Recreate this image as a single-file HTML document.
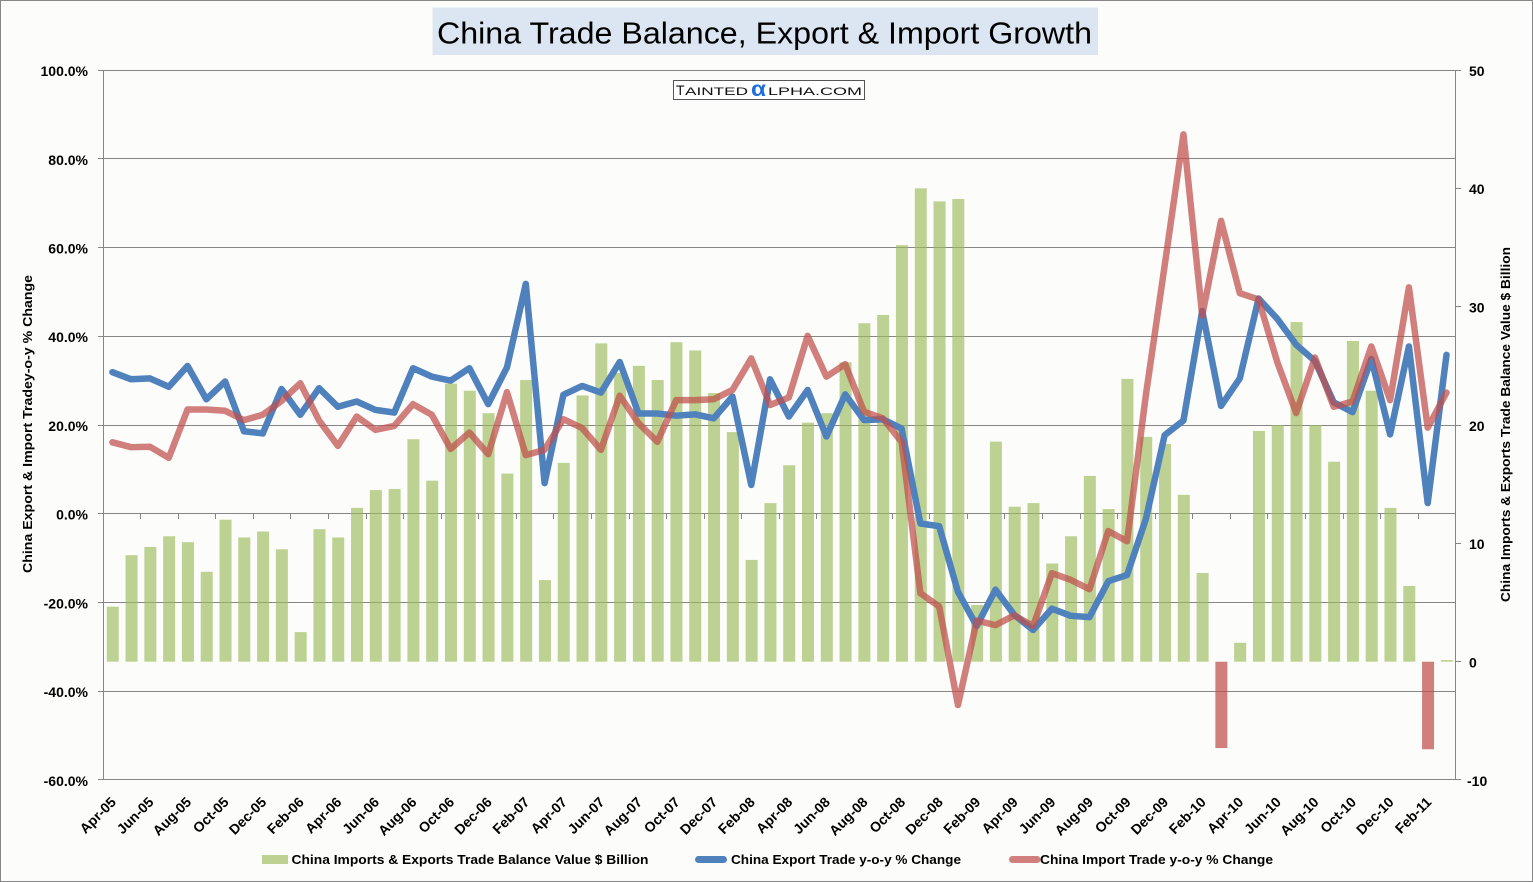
<!DOCTYPE html>
<html>
<head>
<meta charset="utf-8">
<style>
html,body{margin:0;padding:0;background:#FCFDFB;}
body{width:1533px;height:882px;overflow:hidden;}
svg{display:block;}
.t{font-family:"Liberation Sans",sans-serif;font-weight:bold;font-size:14px;fill:#000;}
.xl{font-family:"Liberation Sans",sans-serif;font-weight:bold;font-size:14px;fill:#000;text-anchor:end;}
.lg{font-family:"Liberation Sans",sans-serif;font-weight:bold;font-size:13px;fill:#000;}
</style>
</head>
<body>
<svg width="1533" height="882" viewBox="0 0 1533 882" xmlns="http://www.w3.org/2000/svg">
<rect x="0" y="0" width="1533" height="882" fill="#FCFDFB"/>
<rect x="0.5" y="0.5" width="1532" height="881" fill="none" stroke="#878787" stroke-width="1"/>

<!-- Title -->
<rect x="432.5" y="7.5" width="665.5" height="47.5" fill="#DCE6F2"/>
<text x="437" y="43.5" font-family="Liberation Sans, sans-serif" font-size="31" fill="#000" textLength="655" lengthAdjust="spacingAndGlyphs">China Trade Balance, Export &amp; Import Growth</text>

<!-- Gridlines -->
<g stroke="#868686" stroke-width="1" shape-rendering="crispEdges">
<line x1="103" y1="70.5" x2="1456" y2="70.5"/>
<line x1="103" y1="158.5" x2="1456" y2="158.5"/>
<line x1="103" y1="247.5" x2="1456" y2="247.5"/>
<line x1="103" y1="336.5" x2="1456" y2="336.5"/>
<line x1="103" y1="425.5" x2="1456" y2="425.5"/>
<line x1="103" y1="513.5" x2="1456" y2="513.5"/>
<line x1="103" y1="602.5" x2="1456" y2="602.5"/>
<line x1="103" y1="691.5" x2="1456" y2="691.5"/>
<line x1="103" y1="779.5" x2="1456" y2="779.5"/>
<line x1="103.5" y1="70" x2="103.5" y2="780"/>
<line x1="1455.5" y1="70" x2="1455.5" y2="780"/>
<!-- left ticks -->
<line x1="98" y1="70.5" x2="103" y2="70.5"/>
<line x1="98" y1="158.5" x2="103" y2="158.5"/>
<line x1="98" y1="247.5" x2="103" y2="247.5"/>
<line x1="98" y1="336.5" x2="103" y2="336.5"/>
<line x1="98" y1="425.5" x2="103" y2="425.5"/>
<line x1="98" y1="513.5" x2="103" y2="513.5"/>
<line x1="98" y1="602.5" x2="103" y2="602.5"/>
<line x1="98" y1="691.5" x2="103" y2="691.5"/>
<line x1="98" y1="779.5" x2="103" y2="779.5"/>
<!-- right ticks -->
<line x1="1456" y1="70.5" x2="1461" y2="70.5"/>
<line x1="1456" y1="188.5" x2="1461" y2="188.5"/>
<line x1="1456" y1="306.5" x2="1461" y2="306.5"/>
<line x1="1456" y1="425.5" x2="1461" y2="425.5"/>
<line x1="1456" y1="543.5" x2="1461" y2="543.5"/>
<line x1="1456" y1="661.5" x2="1461" y2="661.5"/>
<line x1="1456" y1="779.5" x2="1461" y2="779.5"/>
</g>
<!-- category ticks on 0% line -->
<path stroke="#868686" stroke-width="1" fill="none" shape-rendering="crispEdges" d="M140.5 514v5M178.5 514v5M215.5 514v5M253.5 514v5M290.5 514v5M328.5 514v5M366.5 514v5M403.5 514v5M441.5 514v5M478.5 514v5M516.5 514v5M553.5 514v5M591.5 514v5M629.5 514v5M666.5 514v5M704.5 514v5M741.5 514v5M779.5 514v5M816.5 514v5M854.5 514v5M892.5 514v5M929.5 514v5M967.5 514v5M1004.5 514v5M1042.5 514v5M1080.5 514v5M1117.5 514v5M1155.5 514v5M1192.5 514v5M1230.5 514v5M1267.5 514v5M1305.5 514v5M1343.5 514v5M1380.5 514v5M1418.5 514v5"/>

<!-- Bars (right axis) -->
<g transform="matrix(18.79 0 0 -11.834 103 661.7)" fill="#9BBB59" fill-opacity="0.65">
<rect x="0.2" y="0" width="0.64" height="4.65"/>
<rect x="1.2" y="0" width="0.64" height="9.0"/>
<rect x="2.2" y="0" width="0.64" height="9.7"/>
<rect x="3.2" y="0" width="0.64" height="10.6"/>
<rect x="4.2" y="0" width="0.64" height="10.1"/>
<rect x="5.2" y="0" width="0.64" height="7.6"/>
<rect x="6.2" y="0" width="0.64" height="12.0"/>
<rect x="7.2" y="0" width="0.64" height="10.5"/>
<rect x="8.2" y="0" width="0.64" height="11.0"/>
<rect x="9.2" y="0" width="0.64" height="9.5"/>
<rect x="10.2" y="0" width="0.64" height="2.5"/>
<rect x="11.2" y="0" width="0.64" height="11.2"/>
<rect x="12.2" y="0" width="0.64" height="10.5"/>
<rect x="13.2" y="0" width="0.64" height="13.0"/>
<rect x="14.2" y="0" width="0.64" height="14.5"/>
<rect x="15.2" y="0" width="0.64" height="14.6"/>
<rect x="16.2" y="0" width="0.64" height="18.8"/>
<rect x="17.2" y="0" width="0.64" height="15.3"/>
<rect x="18.2" y="0" width="0.64" height="23.5"/>
<rect x="19.2" y="0" width="0.64" height="22.9"/>
<rect x="20.2" y="0" width="0.64" height="21.0"/>
<rect x="21.2" y="0" width="0.64" height="15.9"/>
<rect x="22.2" y="0" width="0.64" height="23.8"/>
<rect x="23.2" y="0" width="0.64" height="6.9"/>
<rect x="24.2" y="0" width="0.64" height="16.8"/>
<rect x="25.2" y="0" width="0.64" height="22.5"/>
<rect x="26.2" y="0" width="0.64" height="26.9"/>
<rect x="27.2" y="0" width="0.64" height="24.4"/>
<rect x="28.2" y="0" width="0.64" height="25.0"/>
<rect x="29.2" y="0" width="0.64" height="23.8"/>
<rect x="30.2" y="0" width="0.64" height="27.0"/>
<rect x="31.2" y="0" width="0.64" height="26.3"/>
<rect x="32.2" y="0" width="0.64" height="22.7"/>
<rect x="33.2" y="0" width="0.64" height="19.4"/>
<rect x="34.2" y="0" width="0.64" height="8.6"/>
<rect x="35.2" y="0" width="0.64" height="13.4"/>
<rect x="36.2" y="0" width="0.64" height="16.6"/>
<rect x="37.2" y="0" width="0.64" height="20.2"/>
<rect x="38.2" y="0" width="0.64" height="21.0"/>
<rect x="39.2" y="0" width="0.64" height="25.3"/>
<rect x="40.2" y="0" width="0.64" height="28.6"/>
<rect x="41.2" y="0" width="0.64" height="29.3"/>
<rect x="42.2" y="0" width="0.64" height="35.2"/>
<rect x="43.2" y="0" width="0.64" height="40.0"/>
<rect x="44.2" y="0" width="0.64" height="38.9"/>
<rect x="45.2" y="0" width="0.64" height="39.1"/>
<rect x="46.2" y="0" width="0.64" height="4.8"/>
<rect x="47.2" y="0" width="0.64" height="18.6"/>
<rect x="48.2" y="0" width="0.64" height="13.1"/>
<rect x="49.2" y="0" width="0.64" height="13.4"/>
<rect x="50.2" y="0" width="0.64" height="8.3"/>
<rect x="51.2" y="0" width="0.64" height="10.6"/>
<rect x="52.2" y="0" width="0.64" height="15.7"/>
<rect x="53.2" y="0" width="0.64" height="12.9"/>
<rect x="54.2" y="0" width="0.64" height="23.9"/>
<rect x="55.2" y="0" width="0.64" height="19.0"/>
<rect x="56.2" y="0" width="0.64" height="18.4"/>
<rect x="57.2" y="0" width="0.64" height="14.1"/>
<rect x="58.2" y="0" width="0.64" height="7.5"/>
<rect x="60.2" y="0" width="0.64" height="1.6"/>
<rect x="61.2" y="0" width="0.64" height="19.5"/>
<rect x="62.2" y="0" width="0.64" height="20.0"/>
<rect x="63.2" y="0" width="0.64" height="28.7"/>
<rect x="64.2" y="0" width="0.64" height="20.0"/>
<rect x="65.2" y="0" width="0.64" height="16.9"/>
<rect x="66.2" y="0" width="0.64" height="27.1"/>
<rect x="67.2" y="0" width="0.64" height="22.9"/>
<rect x="68.2" y="0" width="0.64" height="13.0"/>
<rect x="69.2" y="0" width="0.64" height="6.4"/>
<rect x="71.2" y="0" width="0.64" height="0.14"/>
</g>
<g transform="matrix(18.79 0 0 -11.834 103 661.7)" fill="#C0504D" fill-opacity="0.73">
<rect x="59.2" y="-7.3" width="0.64" height="7.3"/>
<rect x="70.2" y="-7.4" width="0.64" height="7.4"/>
</g>

<!-- Export line (blue) -->
<g transform="matrix(18.79 0 0 -4.4375 112.4 513.75)">
<polyline fill="none" stroke="#4F81BD" stroke-width="6.5" stroke-linejoin="round" stroke-linecap="round" vector-effect="non-scaling-stroke"
points="0,31.9 1,30.3 2,30.5 3,28.6 4,33.3 5,25.8 6,29.8 7,18.6 8,18.1 9,28.1 10,22.3 11,28.3 12,24.1 13,25.3 14,23.4 15,22.8 16,32.8 17,30.9 18,30.0 19,32.8 20,24.7 21,33.0 22,51.8 23,6.9 24,26.8 25,28.8 26,27.3 27,34.2 28,22.6 29,22.6 30,22.1 31,22.4 32,21.5 33,26.4 34,6.5 35,30.3 36,21.9 37,27.9 38,17.4 39,26.9 40,21.1 41,21.3 42,19.2 43,-2.2 44,-2.8 45,-17.6 46,-25.3 47,-17.1 48,-22.8 49,-26.2 50,-21.4 51,-23.0 52,-23.3 53,-15.2 54,-13.8 55,-1.2 56,17.7 57,21.0 58,45.7 59,24.3 60,30.5 61,48.5 62,43.9 63,38.1 64,34.4 65,25.1 66,22.9 67,34.9 68,17.9 69,37.7 70,2.4 71,35.8"/>
</g>

<!-- Import line (red) -->
<g transform="matrix(18.79 0 0 -4.4375 112.4 513.75)">
<polyline fill="none" stroke="#C0504D" stroke-opacity="0.73" stroke-width="6.5" stroke-linejoin="round" stroke-linecap="round" vector-effect="non-scaling-stroke"
points="0,16.1 1,15.0 2,15.1 3,12.6 4,23.5 5,23.5 6,23.2 7,21.1 8,22.3 9,25.4 10,29.4 11,21.0 12,15.3 13,21.9 14,18.9 15,19.8 16,24.7 17,22.3 18,14.6 19,18.3 20,13.4 21,27.4 22,13.2 23,14.4 24,21.3 25,19.3 26,14.4 27,26.6 28,20.4 29,16.2 30,25.6 31,25.6 32,25.8 33,27.9 34,35.0 35,24.5 36,26.2 37,40.1 38,30.9 39,33.7 40,23.0 41,21.5 42,16.2 43,-17.9 44,-20.9 45,-43.1 46,-24.1 47,-25.1 48,-22.9 49,-25.3 50,-13.4 51,-14.9 52,-17.0 53,-3.9 54,-6.2 55,26.7 56,55.9 57,85.5 58,44.7 59,66.0 60,49.7 61,48.3 62,34.1 63,22.7 64,35.2 65,24.1 66,25.3 67,37.7 68,25.6 69,51.0 70,19.4 71,27.3"/>
</g>

<!-- Logo -->
<rect x="673.5" y="80.5" width="191" height="19" fill="#FFFFFF" stroke="#555" stroke-width="1"/>
<text x="676" y="95" font-family="Liberation Sans, sans-serif" font-size="14" fill="#111">T</text>
<text x="685" y="95" font-family="Liberation Sans, sans-serif" font-size="11" fill="#111" textLength="63" lengthAdjust="spacingAndGlyphs">AINTED</text>
<text x="751" y="96" font-family="Liberation Sans, sans-serif" font-size="21" font-weight="bold" fill="#1E6FD9" textLength="15" lengthAdjust="spacingAndGlyphs">α</text>
<text x="768" y="95" font-family="Liberation Sans, sans-serif" font-size="11" fill="#111" textLength="94" lengthAdjust="spacingAndGlyphs">LPHA.COM</text>

<!-- Left axis labels -->
<g class="t" text-anchor="end">
<text x="88" y="76">100.0%</text>
<text x="88" y="165">80.0%</text>
<text x="88" y="253.5">60.0%</text>
<text x="88" y="342">40.0%</text>
<text x="88" y="431">20.0%</text>
<text x="88" y="519.5">0.0%</text>
<text x="88" y="608.5">-20.0%</text>
<text x="88" y="697">-40.0%</text>
<text x="88" y="786">-60.0%</text>
</g>

<!-- Right axis labels -->
<g class="t">
<text x="1469" y="76">50</text>
<text x="1469" y="194">40</text>
<text x="1469" y="312.5">30</text>
<text x="1469" y="431">20</text>
<text x="1469" y="549">10</text>
<text x="1469" y="667.5">0</text>
<text x="1467" y="786">-10</text>
</g>

<!-- Axis titles -->
<text class="lg" transform="translate(32,573) rotate(-90)" textLength="298" lengthAdjust="spacingAndGlyphs">China Export &amp; Import Tradey-o-y % Change</text>
<text class="lg" transform="translate(1510,602) rotate(-90)" textLength="355" lengthAdjust="spacingAndGlyphs">China Imports &amp; Exports Trade Balance Value $ Billion</text>

<!-- X axis labels -->
<g class="xl">
<text transform="translate(116.9,803) rotate(-45)">Apr-05</text>
<text transform="translate(154.5,803) rotate(-45)">Jun-05</text>
<text transform="translate(192.1,803) rotate(-45)">Aug-05</text>
<text transform="translate(229.6,803) rotate(-45)">Oct-05</text>
<text transform="translate(267.2,803) rotate(-45)">Dec-05</text>
<text transform="translate(304.8,803) rotate(-45)">Feb-06</text>
<text transform="translate(342.4,803) rotate(-45)">Apr-06</text>
<text transform="translate(380.0,803) rotate(-45)">Jun-06</text>
<text transform="translate(417.5,803) rotate(-45)">Aug-06</text>
<text transform="translate(455.1,803) rotate(-45)">Oct-06</text>
<text transform="translate(492.7,803) rotate(-45)">Dec-06</text>
<text transform="translate(530.3,803) rotate(-45)">Feb-07</text>
<text transform="translate(567.9,803) rotate(-45)">Apr-07</text>
<text transform="translate(605.4,803) rotate(-45)">Jun-07</text>
<text transform="translate(643.0,803) rotate(-45)">Aug-07</text>
<text transform="translate(680.6,803) rotate(-45)">Oct-07</text>
<text transform="translate(718.2,803) rotate(-45)">Dec-07</text>
<text transform="translate(755.8,803) rotate(-45)">Feb-08</text>
<text transform="translate(793.3,803) rotate(-45)">Apr-08</text>
<text transform="translate(830.9,803) rotate(-45)">Jun-08</text>
<text transform="translate(868.5,803) rotate(-45)">Aug-08</text>
<text transform="translate(906.1,803) rotate(-45)">Oct-08</text>
<text transform="translate(943.7,803) rotate(-45)">Dec-08</text>
<text transform="translate(981.2,803) rotate(-45)">Feb-09</text>
<text transform="translate(1018.8,803) rotate(-45)">Apr-09</text>
<text transform="translate(1056.4,803) rotate(-45)">Jun-09</text>
<text transform="translate(1094.0,803) rotate(-45)">Aug-09</text>
<text transform="translate(1131.6,803) rotate(-45)">Oct-09</text>
<text transform="translate(1169.1,803) rotate(-45)">Dec-09</text>
<text transform="translate(1206.7,803) rotate(-45)">Feb-10</text>
<text transform="translate(1244.3,803) rotate(-45)">Apr-10</text>
<text transform="translate(1281.9,803) rotate(-45)">Jun-10</text>
<text transform="translate(1319.5,803) rotate(-45)">Aug-10</text>
<text transform="translate(1357.0,803) rotate(-45)">Oct-10</text>
<text transform="translate(1394.6,803) rotate(-45)">Dec-10</text>
<text transform="translate(1432.2,803) rotate(-45)">Feb-11</text>
</g>

<!-- Legend -->
<rect x="262" y="855" width="26" height="9" fill="#9BBB59" fill-opacity="0.65"/>
<text class="lg" x="291.5" y="864" textLength="357" lengthAdjust="spacingAndGlyphs">China Imports &amp; Exports Trade Balance Value $ Billion</text>
<line x1="698.5" y1="859.5" x2="723.5" y2="859.5" stroke="#4F81BD" stroke-width="7" stroke-linecap="round"/>
<text class="lg" x="731" y="864" textLength="230" lengthAdjust="spacingAndGlyphs">China Export Trade y-o-y % Change</text>
<line x1="1012.5" y1="859.5" x2="1037" y2="859.5" stroke="#C0504D" stroke-opacity="0.73" stroke-width="7" stroke-linecap="round"/>
<text class="lg" x="1040" y="864" textLength="233" lengthAdjust="spacingAndGlyphs">China Import Trade y-o-y % Change</text>
</svg>
</body>
</html>
